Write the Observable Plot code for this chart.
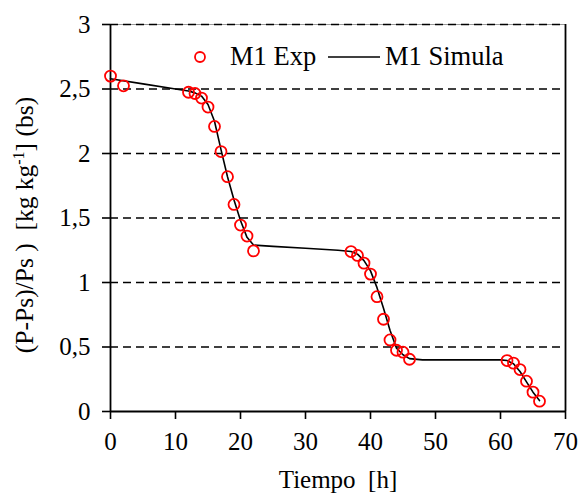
<!DOCTYPE html>
<html>
<head>
<meta charset="utf-8">
<script src="https://cdn.jsdelivr.net/npm/d3@7"></script>
<script src="https://cdn.jsdelivr.net/npm/@observablehq/plot@0.6"></script>
<style>
  html, body { margin: 0; padding: 0; background: white; }
  #chart { width: 581px; height: 493px; position: relative; }
  #chart svg, #chart svg text { font-family: 'Liberation Serif', 'Times New Roman', serif; }
</style>
</head>
<body>
<div id="chart"></div>
<script>
// Experimental data (M1 Exp)
const expTime = [0, 2, 12, 13, 14, 15, 16, 17, 18, 19, 20, 21, 22,
                 37, 38, 39, 40, 41, 42, 43, 44, 45, 46,
                 61, 62, 63, 64, 65, 66];
const expValue = [2.60, 2.525, 2.475, 2.465, 2.43, 2.36, 2.21, 2.015, 1.82, 1.605, 1.445, 1.36, 1.245,
                  1.24, 1.21, 1.15, 1.065, 0.89, 0.715, 0.555, 0.475, 0.46, 0.405,
                  0.395, 0.375, 0.325, 0.235, 0.15, 0.08];

// Simulated curve (M1 Simula)
const simTime = [0, 5, 10, 12, 13, 14, 15, 16, 17, 18, 19, 20, 21, 22, 25, 30, 35, 37, 38, 39, 40, 41, 42, 43, 44, 45, 46, 48, 55, 60, 61, 62, 63, 64, 65, 66];
const simValue = [2.58, 2.54, 2.50, 2.485, 2.47, 2.445, 2.38, 2.25, 2.03, 1.82, 1.64, 1.48, 1.35, 1.29, 1.28, 1.265, 1.25, 1.24, 1.22, 1.17, 1.09, 0.96, 0.80, 0.63, 0.49, 0.44, 0.41, 0.40, 0.40, 0.40, 0.395, 0.37, 0.31, 0.23, 0.15, 0.085];

const xTicks = [0, 10, 20, 30, 40, 50, 60, 70];
const yTicks = [0, 0.5, 1, 1.5, 2, 2.5, 3];
const gridY = [0.5, 1, 1.5, 2, 2.5];

const expData = expTime.map((t, i) => ({t, v: expValue[i]}));
const simData = simTime.map((t, i) => ({t, v: simValue[i]}));

const font = "'Liberation Serif', 'Times New Roman', serif";

const plot = Plot.plot({
  width: 581,
  height: 493,
  marginLeft: 110,
  marginRight: 16,
  marginTop: 24,
  marginBottom: 82,
  style: {fontFamily: font, fontSize: "25px", color: "black", background: "white", overflow: "visible"},
  x: {domain: [0, 70]},
  y: {domain: [0, 3]},
  marks: [
    Plot.ruleY(gridY, {stroke: "black", strokeWidth: 1.6, strokeDasharray: "8,5"}),
    Plot.ruleY([3], {stroke: "#999", strokeWidth: 1.2}),
    Plot.ruleY([3], {stroke: "black", strokeWidth: 1.6, strokeDasharray: "8,5"}),
    Plot.ruleX([70], {stroke: "black", strokeWidth: 1.8}),
    Plot.axisX({ticks: xTicks, tickSize: 8, tickPadding: 13, strokeWidth: 1.6, fontFamily: font, fontSize: 25,
      label: "Tiempo\u00a0\u00a0[h]", labelAnchor: "center", labelArrow: "none", labelOffset: 76}),
    Plot.axisY({ticks: yTicks, tickSize: 8, tickPadding: 12, strokeWidth: 1.6, fontFamily: font, fontSize: 25,
      tickFormat: d => String(d).replace(".", ","), label: null}),
    Plot.ruleX([0], {stroke: "black", strokeWidth: 1.8}),
    Plot.ruleY([0], {stroke: "black", strokeWidth: 1.8}),
    Plot.line(simData, {x: "t", y: "v", stroke: "black", strokeWidth: 1.6}),
    Plot.dot(expData, {x: "t", y: "v", r: 5.5, stroke: "red", strokeWidth: 1.8, fill: "none"})
  ]
});

document.getElementById("chart").appendChild(plot);

const svg = d3.select(plot);
svg.attr("font-family", font);

// Y axis label with superscript
const yl = svg.append("text")
  .attr("transform", "translate(33,225) rotate(-90)")
  .attr("text-anchor", "middle")
  .attr("font-family", font)
  .attr("font-size", 25.5)
  .attr("fill", "black")
  .style("white-space", "pre");
yl.append("tspan").text("(P-Ps)/Ps )  [kg kg");
yl.append("tspan").attr("dy", -9).attr("font-size", 16).text("-1");
yl.append("tspan").attr("dy", 9).text("] (bs)");

// Legend
const lg = svg.append("g").attr("font-family", font).attr("font-size", 26.5).attr("fill", "black").attr("text-anchor", "start");
lg.append("circle").attr("cx", 200).attr("cy", 57).attr("r", 5).attr("fill", "none").attr("stroke", "red").attr("stroke-width", 1.8);
lg.append("text").attr("x", 230).attr("y", 65).text("M1 Exp");
lg.append("line").attr("x1", 328).attr("x2", 380).attr("y1", 57).attr("y2", 57).attr("stroke", "black").attr("stroke-width", 1.6);
lg.append("text").attr("x", 385).attr("y", 65).text("M1 Simula");
</script>
</body>
</html>
